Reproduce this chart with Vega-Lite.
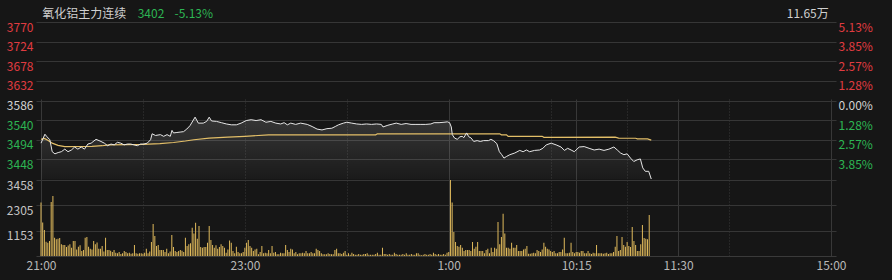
{
  "$schema": "https://vega.github.io/schema/vega-lite/v6.json",
  "autosize": {"type": "none"},
  "width": 800,
  "height": 234,
  "padding": {"left": 36, "top": 22, "right": 56, "bottom": 24},
  "background": "#161616",
  "config": {
    "view": {"stroke": null},
    "axis": {"labelFont": "Noto Sans CJK SC", "labelFontSize": 12, "gridWidth": 1}
  },
  "datasets": {
    "price": [
      {"t":0,"p":3486},{"t":2.3,"p":3507},{"t":3.3,"p":3502},{"t":5.2,"p":3494},{"t":6.6,"p":3466},{"t":8.2,"p":3461},{"t":10.1,"p":3464},{"t":12,"p":3466},{"t":14,"p":3472},{"t":15.9,"p":3466},{"t":17.9,"p":3470},{"t":19.8,"p":3477},{"t":21.7,"p":3472},{"t":23.7,"p":3477},{"t":25.6,"p":3472},{"t":27.6,"p":3484},{"t":29.5,"p":3486},{"t":32.4,"p":3495},{"t":35.3,"p":3490},{"t":37.3,"p":3486},{"t":39.2,"p":3480},{"t":41.2,"p":3484},{"t":43.1,"p":3482},{"t":45,"p":3488},{"t":47,"p":3486},{"t":48.9,"p":3482},{"t":50.9,"p":3484},{"t":52.8,"p":3484},{"t":54.7,"p":3482},{"t":56.7,"p":3480},{"t":58.6,"p":3484},{"t":60.6,"p":3484},{"t":62.5,"p":3486},{"t":64.5,"p":3494},{"t":65.4,"p":3508},{"t":67.4,"p":3504},{"t":70.3,"p":3506},{"t":72.2,"p":3502},{"t":74.2,"p":3506},{"t":76.1,"p":3502},{"t":77.1,"p":3516},{"t":78,"p":3510},{"t":80,"p":3511},{"t":81.9,"p":3512},{"t":83.9,"p":3513},{"t":85.8,"p":3519},{"t":87.7,"p":3527},{"t":90.7,"p":3547},{"t":92.6,"p":3533},{"t":95.5,"p":3533},{"t":97.5,"p":3537},{"t":99,"p":3547},{"t":100.4,"p":3538},{"t":103.3,"p":3537},{"t":106.2,"p":3534},{"t":109.1,"p":3531},{"t":112,"p":3529},{"t":115,"p":3529},{"t":117.8,"p":3533},{"t":120.8,"p":3539},{"t":123.7,"p":3541},{"t":126.6,"p":3539},{"t":129.5,"p":3541},{"t":132.4,"p":3535},{"t":135.3,"p":3537},{"t":138.2,"p":3533},{"t":141.1,"p":3531},{"t":143.1,"p":3534},{"t":145,"p":3529},{"t":147,"p":3533},{"t":149.9,"p":3530},{"t":152.8,"p":3533},{"t":156.7,"p":3530},{"t":159.6,"p":3525},{"t":162.5,"p":3519},{"t":165.4,"p":3517},{"t":168.3,"p":3520},{"t":171.2,"p":3521},{"t":173.2,"p":3525},{"t":175.1,"p":3529},{"t":178,"p":3533},{"t":180,"p":3535},{"t":182.9,"p":3533},{"t":185.8,"p":3531},{"t":188.7,"p":3530},{"t":191.6,"p":3531},{"t":194.5,"p":3530},{"t":197.5,"p":3531},{"t":200.3,"p":3530},{"t":201.3,"p":3524},{"t":204.2,"p":3528},{"t":207.1,"p":3531},{"t":209.1,"p":3533},{"t":212,"p":3530},{"t":214.9,"p":3532},{"t":217.8,"p":3530},{"t":220.7,"p":3530},{"t":223.6,"p":3530},{"t":226.5,"p":3530},{"t":229.5,"p":3531},{"t":231.4,"p":3534},{"t":234.3,"p":3534},{"t":237.2,"p":3535},{"t":239.2,"p":3536},{"t":240.5,"p":3534},{"t":241.5,"p":3524},{"t":242.1,"p":3506},{"t":243.4,"p":3498},{"t":245,"p":3495},{"t":246.6,"p":3501},{"t":247.9,"p":3502},{"t":248.9,"p":3499},{"t":250.5,"p":3510},{"t":251.8,"p":3501},{"t":253.2,"p":3498},{"t":254.7,"p":3490},{"t":256.7,"p":3492},{"t":258.6,"p":3490},{"t":260.5,"p":3492},{"t":263.4,"p":3492},{"t":264.8,"p":3495},{"t":266.3,"p":3492},{"t":268.3,"p":3485},{"t":269.8,"p":3466},{"t":271.2,"p":3459},{"t":272.5,"p":3451},{"t":274.1,"p":3455},{"t":276,"p":3459},{"t":278.9,"p":3463},{"t":281.8,"p":3469},{"t":283.8,"p":3466},{"t":285.7,"p":3470},{"t":287.6,"p":3466},{"t":290.5,"p":3469},{"t":293.5,"p":3470},{"t":295.4,"p":3474},{"t":297.4,"p":3482},{"t":300.3,"p":3486},{"t":303.2,"p":3482},{"t":306.1,"p":3477},{"t":308.1,"p":3469},{"t":310,"p":3474},{"t":312,"p":3470},{"t":313.9,"p":3466},{"t":316.8,"p":3477},{"t":319.7,"p":3478},{"t":322.6,"p":3474},{"t":325.6,"p":3470},{"t":328.5,"p":3472},{"t":331.4,"p":3469},{"t":334.3,"p":3472},{"t":337.2,"p":3477},{"t":339.2,"p":3470},{"t":341.1,"p":3463},{"t":343.1,"p":3459},{"t":345,"p":3461},{"t":347,"p":3451},{"t":348.9,"p":3443},{"t":350.9,"p":3447},{"t":352.8,"p":3449},{"t":354.2,"p":3428},{"t":355.7,"p":3420},{"t":357.7,"p":3420},{"t":359.2,"p":3402}
    ],
    "avg": [
      {"t":0,"a":3495},{"t":2,"a":3497},{"t":4,"a":3493},{"t":6.6,"a":3486},{"t":10,"a":3481},{"t":14,"a":3478},{"t":30,"a":3478.5},{"t":36,"a":3480},{"t":40,"a":3482},{"t":60,"a":3483},{"t":70,"a":3485},{"t":78,"a":3487.5},{"t":85,"a":3491},{"t":90,"a":3494},{"t":99,"a":3498},{"t":110,"a":3500},{"t":120,"a":3502},{"t":134,"a":3505.5},{"t":197,"a":3505.6},{"t":198,"a":3508},{"t":270,"a":3508},{"t":271,"a":3505.6},{"t":274,"a":3505.6},{"t":275,"a":3502},{"t":295,"a":3502},{"t":296,"a":3499.7},{"t":338,"a":3500},{"t":340,"a":3498},{"t":350,"a":3497.5},{"t":351,"a":3496},{"t":357,"a":3496},{"t":359.2,"a":3493}
    ],
    "vol": [
      {"t":0,"v":2430},{"t":1,"v":1520},{"t":2,"v":1180},{"t":3,"v":650},{"t":4,"v":600},{"t":5,"v":680},{"t":6,"v":2460},{"t":7,"v":2730},{"t":8,"v":830},{"t":9,"v":760},
      {"t":10,"v":790},{"t":11,"v":820},{"t":12,"v":530},{"t":13,"v":500},{"t":14,"v":500},{"t":15,"v":410},{"t":16,"v":480},{"t":17,"v":530},{"t":18,"v":380},{"t":19,"v":680},
      {"t":20,"v":680},{"t":21,"v":300},{"t":22,"v":420},{"t":23,"v":490},{"t":24,"v":230},{"t":25,"v":270},{"t":26,"v":830},{"t":27,"v":860},{"t":28,"v":420},{"t":29,"v":330},
      {"t":30,"v":300},{"t":31,"v":680},{"t":32,"v":530},{"t":33,"v":610},{"t":34,"v":330},{"t":35,"v":330},{"t":36,"v":455},{"t":37,"v":200},{"t":38,"v":830},{"t":39,"v":270},
      {"t":40,"v":270},{"t":41,"v":240},{"t":42,"v":180},{"t":43,"v":270},{"t":44,"v":150},{"t":45,"v":120},{"t":46,"v":180},{"t":47,"v":90},{"t":48,"v":130},{"t":49,"v":230},
      {"t":50,"v":180},{"t":51,"v":120},{"t":52,"v":150},{"t":53,"v":100},{"t":54,"v":120},{"t":55,"v":500},{"t":56,"v":120},{"t":57,"v":100},{"t":58,"v":120},{"t":59,"v":120},
      {"t":60,"v":100},{"t":61,"v":150},{"t":62,"v":330},{"t":63,"v":120},{"t":64,"v":200},{"t":65,"v":640},{"t":66,"v":1460},{"t":67,"v":910},{"t":68,"v":455},{"t":69,"v":500},
      {"t":70,"v":270},{"t":71,"v":270},{"t":72,"v":270},{"t":73,"v":180},{"t":74,"v":330},{"t":75,"v":120},{"t":76,"v":200},{"t":77,"v":955},{"t":78,"v":410},{"t":79,"v":230},
      {"t":80,"v":180},{"t":81,"v":230},{"t":82,"v":270},{"t":83,"v":240},{"t":84,"v":180},{"t":85,"v":830},{"t":86,"v":455},{"t":87,"v":530},{"t":88,"v":576},{"t":89,"v":1290},
      {"t":90,"v":1020},{"t":91,"v":1517},{"t":92,"v":790},{"t":93,"v":1365},{"t":94,"v":410},{"t":95,"v":380},{"t":96,"v":410},{"t":97,"v":410},{"t":98,"v":600},{"t":99,"v":1365},
      {"t":100,"v":730},{"t":101,"v":500},{"t":102,"v":380},{"t":103,"v":490},{"t":104,"v":330},{"t":105,"v":410},{"t":106,"v":530},{"t":107,"v":455},{"t":108,"v":380},{"t":109,"v":150},
      {"t":110,"v":300},{"t":111,"v":710},{"t":112,"v":600},{"t":113,"v":230},{"t":114,"v":120},{"t":115,"v":420},{"t":116,"v":180},{"t":117,"v":120},{"t":118,"v":120},{"t":119,"v":180},
      {"t":120,"v":380},{"t":121,"v":600},{"t":122,"v":730},{"t":123,"v":455},{"t":124,"v":380},{"t":125,"v":230},{"t":126,"v":300},{"t":127,"v":330},{"t":128,"v":75},{"t":129,"v":180},
      {"t":130,"v":455},{"t":131,"v":120},{"t":132,"v":150},{"t":133,"v":120},{"t":134,"v":270},{"t":135,"v":120},{"t":136,"v":455},{"t":137,"v":150},{"t":138,"v":180},{"t":139,"v":75},
      {"t":140,"v":75},{"t":141,"v":150},{"t":142,"v":120},{"t":143,"v":120},{"t":144,"v":500},{"t":145,"v":270},{"t":146,"v":180},{"t":147,"v":330},{"t":148,"v":300},{"t":149,"v":120},
      {"t":150,"v":180},{"t":151,"v":75},{"t":152,"v":120},{"t":153,"v":120},{"t":154,"v":150},{"t":155,"v":120},{"t":156,"v":230},{"t":157,"v":120},{"t":158,"v":120},{"t":159,"v":180},
      {"t":160,"v":120},{"t":161,"v":120},{"t":162,"v":330},{"t":163,"v":270},{"t":164,"v":230},{"t":165,"v":120},{"t":166,"v":75},{"t":167,"v":75},{"t":168,"v":75},{"t":169,"v":120},
      {"t":170,"v":90},{"t":171,"v":75},{"t":172,"v":75},{"t":173,"v":270},{"t":174,"v":330},{"t":175,"v":120},{"t":176,"v":120},{"t":177,"v":90},{"t":178,"v":150},{"t":179,"v":230},
      {"t":180,"v":60},{"t":181,"v":120},{"t":182,"v":60},{"t":183,"v":150},{"t":184,"v":90},{"t":185,"v":60},{"t":186,"v":60},{"t":187,"v":90},{"t":188,"v":60},{"t":189,"v":60},
      {"t":190,"v":90},{"t":191,"v":90},{"t":192,"v":120},{"t":193,"v":60},{"t":194,"v":60},{"t":195,"v":60},{"t":196,"v":60},{"t":197,"v":90},{"t":198,"v":150},{"t":199,"v":60},
      {"t":200,"v":60},{"t":201,"v":380},{"t":202,"v":90},{"t":203,"v":90},{"t":204,"v":60},{"t":205,"v":90},{"t":206,"v":60},{"t":207,"v":60},{"t":208,"v":150},{"t":209,"v":90},
      {"t":210,"v":60},{"t":211,"v":60},{"t":212,"v":60},{"t":213,"v":90},{"t":214,"v":60},{"t":215,"v":120},{"t":216,"v":60},{"t":217,"v":60},{"t":218,"v":90},{"t":219,"v":60},
      {"t":220,"v":60},{"t":221,"v":120},{"t":222,"v":120},{"t":223,"v":60},{"t":224,"v":30},{"t":225,"v":60},{"t":226,"v":90},{"t":227,"v":60},{"t":228,"v":60},{"t":229,"v":90},
      {"t":230,"v":60},{"t":231,"v":150},{"t":232,"v":90},{"t":233,"v":60},{"t":234,"v":90},{"t":235,"v":60},{"t":236,"v":60},{"t":237,"v":90},{"t":238,"v":60},{"t":239,"v":150},
      {"t":240,"v":180},{"t":241,"v":3458},{"t":242,"v":2430},{"t":243,"v":1090},{"t":244,"v":640},{"t":245,"v":455},{"t":246,"v":425},{"t":247,"v":500},{"t":248,"v":380},{"t":249,"v":230},
      {"t":250,"v":270},{"t":251,"v":270},{"t":252,"v":270},{"t":253,"v":230},{"t":254,"v":640},{"t":255,"v":330},{"t":256,"v":420},{"t":257,"v":640},{"t":258,"v":230},{"t":259,"v":230},
      {"t":260,"v":230},{"t":261,"v":120},{"t":262,"v":270},{"t":263,"v":330},{"t":264,"v":120},{"t":265,"v":380},{"t":266,"v":180},{"t":267,"v":380},{"t":268,"v":330},{"t":269,"v":1550},
      {"t":270,"v":530},{"t":271,"v":865},{"t":272,"v":1925},{"t":273,"v":1020},{"t":274,"v":380},{"t":275,"v":380},{"t":276,"v":330},{"t":277,"v":600},{"t":278,"v":380},{"t":279,"v":380},
      {"t":280,"v":500},{"t":281,"v":230},{"t":282,"v":230},{"t":283,"v":230},{"t":284,"v":300},{"t":285,"v":330},{"t":286,"v":455},{"t":287,"v":105},{"t":288,"v":105},{"t":289,"v":120},
      {"t":290,"v":150},{"t":291,"v":120},{"t":292,"v":270},{"t":293,"v":230},{"t":294,"v":180},{"t":295,"v":300},{"t":296,"v":600},{"t":297,"v":425},{"t":298,"v":330},{"t":299,"v":300},
      {"t":300,"v":230},{"t":301,"v":180},{"t":302,"v":230},{"t":303,"v":120},{"t":304,"v":120},{"t":305,"v":180},{"t":306,"v":180},{"t":307,"v":300},{"t":308,"v":830},{"t":309,"v":120},
      {"t":310,"v":120},{"t":311,"v":150},{"t":312,"v":600},{"t":313,"v":180},{"t":314,"v":120},{"t":315,"v":180},{"t":316,"v":180},{"t":317,"v":150},{"t":318,"v":230},{"t":319,"v":230},
      {"t":320,"v":120},{"t":321,"v":120},{"t":322,"v":230},{"t":323,"v":120},{"t":324,"v":90},{"t":325,"v":150},{"t":326,"v":120},{"t":327,"v":500},{"t":328,"v":120},{"t":329,"v":120},
      {"t":330,"v":120},{"t":331,"v":105},{"t":332,"v":120},{"t":333,"v":150},{"t":334,"v":90},{"t":335,"v":120},{"t":336,"v":120},{"t":337,"v":180},{"t":338,"v":425},{"t":339,"v":910},
      {"t":340,"v":230},{"t":341,"v":270},{"t":342,"v":865},{"t":343,"v":500},{"t":344,"v":425},{"t":345,"v":640},{"t":346,"v":455},{"t":347,"v":410},{"t":348,"v":1320},{"t":349,"v":680},
      {"t":350,"v":500},{"t":351,"v":230},{"t":352,"v":230},{"t":353,"v":530},{"t":354,"v":1410},{"t":355,"v":820},{"t":356,"v":790},{"t":357,"v":760},{"t":358,"v":1865}
    ]
  },
  "layer": [
    {
      "layer": [
        {
          "data": {"name": "price"},
          "mark": {
            "type": "area",
            "color": {
              "gradient": "linear", "x1": 0, "y1": 0, "x2": 0, "y2": 1,
              "stops": [
                {"offset": 0, "color": "rgba(255,255,255,0.14)"},
                {"offset": 1, "color": "rgba(255,255,255,0.02)"}
              ]
            }
          },
          "encoding": {
            "x": {
              "field": "t", "type": "quantitative",
              "scale": {"domain": [0, 465], "nice": false, "zero": false},
              "axis": {
                "orient": "bottom",
                "values": [0, 60, 120, 180, 240, 300, 315, 345, 375, 405, 465],
                "labelExpr": "datum.value==0?'21:00':datum.value==120?'23:00':datum.value==240?'1:00':datum.value==315?'10:15':datum.value==375?'11:30':datum.value==465?'15:00':''",
                "grid": true,
                "gridColor": "#383838",
                "gridDash": {"condition": {"test": "indexof([60,120,180,300,345,405], datum.value) >= 0", "value": [1, 2]}, "value": []},
                "domainColor": "#3a3a3a",
                "ticks": false,
                "labelPadding": 4,
                "labelBaseline": "top",
                "labelFlush": false,
                "labelOverlap": false,
                "labelColor": "#b8b8b8",
                "title": null
              }
            },
            "y": {
              "field": "p", "type": "quantitative",
              "scale": {"domain": [3402, 3770], "range": [157, 0], "nice": false, "zero": false},
              "axis": {
                "orient": "left",
                "values": [3448, 3494, 3540, 3586, 3632, 3678, 3724, 3770],
                "format": "d",
                "grid": true,
                "gridColor": "#363636",
                "domain": false,
                "ticks": false,
                "labelPadding": 3,
                "labelBaseline": "top",
                "labelOverlap": false,
                "labelColor": {"condition": [{"test": "datum.value > 3590", "value": "#e03c41"}, {"test": "datum.value < 3580", "value": "#2db553"}], "value": "#d2d2d2"},
                "title": null
              }
            },
            "y2": {"datum": 3402}
          }
        },
        {
          "data": {"name": "avg"},
          "mark": {"type": "line", "color": "#e3bf68", "strokeWidth": 1.2},
          "encoding": {
            "x": {"field": "t", "type": "quantitative", "scale": {"domain": [0, 465], "nice": false, "zero": false}, "axis": null},
            "y": {
              "field": "a", "type": "quantitative",
              "scale": {"domain": [3402, 3770], "range": [157, 0], "nice": false, "zero": false},
              "axis": {
                "orient": "right",
                "values": [3448, 3494, 3540, 3586, 3632, 3678, 3724, 3770],
                "labelExpr": "format(abs(datum.value-3586)/3586*100, '.2f') + '%'",
                "grid": false,
                "domain": false,
                "ticks": false,
                "labelPadding": 2,
                "labelBaseline": "top",
                "labelOverlap": false,
                "labelColor": {"condition": [{"test": "datum.value > 3590", "value": "#e03c41"}, {"test": "datum.value < 3580", "value": "#2db553"}], "value": "#d2d2d2"},
                "title": null
              }
            }
          }
        },
        {
          "data": {"name": "price"},
          "mark": {"type": "line", "color": "#e6e6e6", "strokeWidth": 1},
          "encoding": {
            "x": {"field": "t", "type": "quantitative", "scale": {"domain": [0, 465], "nice": false, "zero": false}, "axis": null},
            "y": {"field": "p", "type": "quantitative", "scale": {"domain": [3402, 3770], "range": [157, 0], "nice": false, "zero": false}, "axis": null}
          }
        }
      ],
      "resolve": {"axis": {"x": "independent", "y": "independent"}}
    },
    {
      "data": {"name": "vol"},
      "mark": {"type": "bar", "color": "#e0ba5c", "size": 1},
      "encoding": {
        "x": {
          "field": "t", "type": "quantitative",
          "scale": {"domain": [0, 465], "nice": false, "zero": false},
          "axis": {
            "orient": "top",
            "values": [0.4, 56.6, 78.3, 463.4],
            "labelExpr": "datum.value < 1 ? '氧化铝主力连续' : datum.value < 60 ? '3402' : datum.value < 100 ? '-5.13%' : '11.65万'",
            "labelAlign": {"condition": {"test": "datum.value > 400", "value": "right"}, "value": "left"},
            "labelColor": {"condition": {"test": "datum.value > 50 && datum.value < 100", "value": "#2db553"}, "value": "#cfcfcf"},
            "grid": false,
            "domain": false,
            "ticks": false,
            "labelPadding": 2,
            "labelFlush": false,
            "labelOverlap": false,
            "labelBound": false,
            "title": null
          }
        },
        "y": {
          "field": "v", "type": "quantitative", "stack": null,
          "scale": {"domain": [0, 3458], "range": [234, 158], "nice": false},
          "axis": {
            "orient": "left",
            "values": [1153, 2305, 3458],
            "format": "d",
            "grid": true,
            "gridColor": "#363636",
            "domain": false,
            "ticks": false,
            "labelPadding": 3,
            "labelBaseline": "top",
            "labelOverlap": false,
            "labelColor": "#c4c4c4",
            "title": null
          }
        }
      }
    }
  ],
  "resolve": {"scale": {"y": "independent"}, "axis": {"x": "independent", "y": "independent"}}
}
